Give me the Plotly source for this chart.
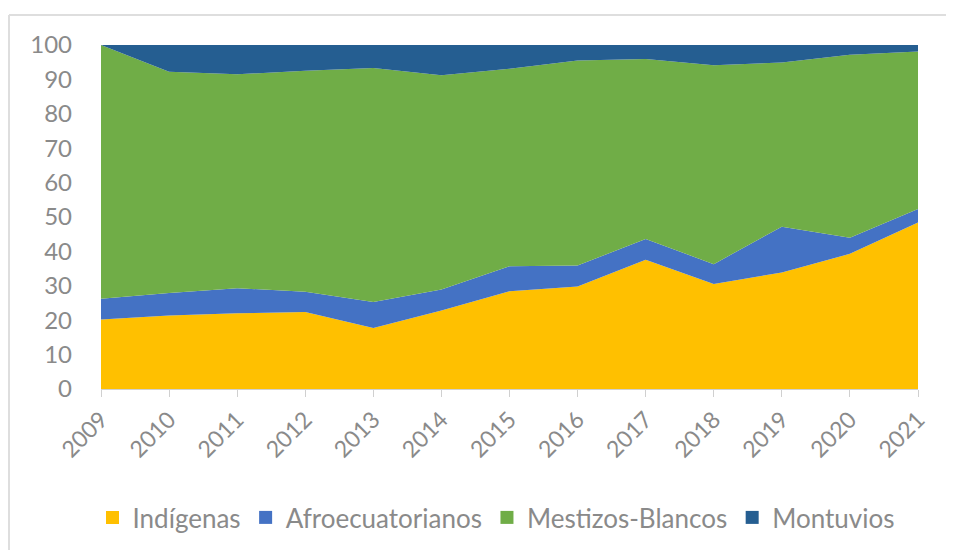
import plotly.graph_objects as go

years = ["2009", "2010", "2011", "2012", "2013", "2014", "2015", "2016", "2017", "2018", "2019", "2020", "2021"]
indigenas = [20.2, 21.4, 22.0, 22.4, 17.7, 22.8, 28.4, 29.8, 37.6, 30.5, 33.9, 39.3, 48.4]
afro = [6.0, 6.5, 7.3, 5.9, 7.6, 6.1, 7.3, 6.1, 6.0, 5.8, 13.3, 4.7, 3.9]
mestizos = [73.8, 64.3, 62.2, 64.2, 68.0, 62.3, 57.4, 59.6, 52.3, 57.8, 47.7, 53.2, 45.8]
montuvios = [0.0, 7.8, 8.5, 7.5, 6.7, 8.8, 6.9, 4.5, 4.1, 5.9, 5.1, 2.8, 1.9]

series = [
    ("Indígenas", indigenas, "#FFC000"),
    ("Afroecuatorianos", afro, "#4472C4"),
    ("Mestizos-Blancos", mestizos, "#70AD47"),
    ("Montuvios", montuvios, "#255E91"),
]

fig = go.Figure()
for name, vals, col in series:
    fig.add_trace(go.Scatter(
        x=years, y=vals, name=name, stackgroup="one", mode="none",
        fillcolor=col, line=dict(width=0), showlegend=False,
    ))
for name, vals, col in series:
    fig.add_trace(go.Scatter(
        x=[None], y=[None], name=name, mode="markers",
        marker=dict(symbol="square", size=13, color=col), showlegend=True,
    ))

OFF = 8  # page body margin
W, H = 954 - OFF, 550 - OFF
# target plot area in screenshot pixels: x 101..918, y 45..389
L = 101 - OFF
T = 45 - OFF
R = W - (918 - OFF)
B = H - (389 - OFF)
pw, ph = W - L - R, H - T - B

def px_x(p):
    return (p - OFF - L) / pw

def px_y(p):
    return (H - B - (p - OFF)) / ph

font_fam = "Lato"
gray = "#8a8a8a"
fig.update_layout(
    width=W, height=H,
    margin=dict(l=L, r=R, t=T, b=B, autoexpand=False),
    paper_bgcolor="white", plot_bgcolor="white",
    font=dict(family=font_fam, color=gray, size=22),
    showlegend=True,
    legend=dict(
        orientation="h", x=px_x(496), xanchor="center", y=px_y(494), yanchor="top",
        font=dict(family=font_fam, size=26, color=gray),
        itemwidth=30, traceorder="normal", tracegroupgap=0,
        itemclick=False,
    ),
    xaxis=dict(
        type="category", range=[0, 12], tickangle=-45,
        showline=True, linecolor="#d0d0d0", linewidth=1,
        ticks="outside", ticklen=7, tickcolor="#d0d0d0", tickwidth=1,
        showgrid=False, zeroline=False, automargin=False,
        tickfont=dict(family=font_fam, size=23, color=gray),
    ),
    yaxis=dict(
        range=[0, 100], dtick=10, showgrid=False, zeroline=False,
        showline=False, ticks="", ticklabelstandoff=28, automargin=False,
        tickfont=dict(family=font_fam, size=24, color=gray),
    ),
    shapes=[
        dict(type="line", xref="paper", yref="paper",
             x0=px_x(9), x1=px_x(960), y0=px_y(15), y1=px_y(15),
             line=dict(color="#dedede", width=2)),
        dict(type="line", xref="paper", yref="paper",
             x0=px_x(9), x1=px_x(9), y0=px_y(15), y1=px_y(560),
             line=dict(color="#dedede", width=2)),
    ],
)

fig.write_html("out.html")
